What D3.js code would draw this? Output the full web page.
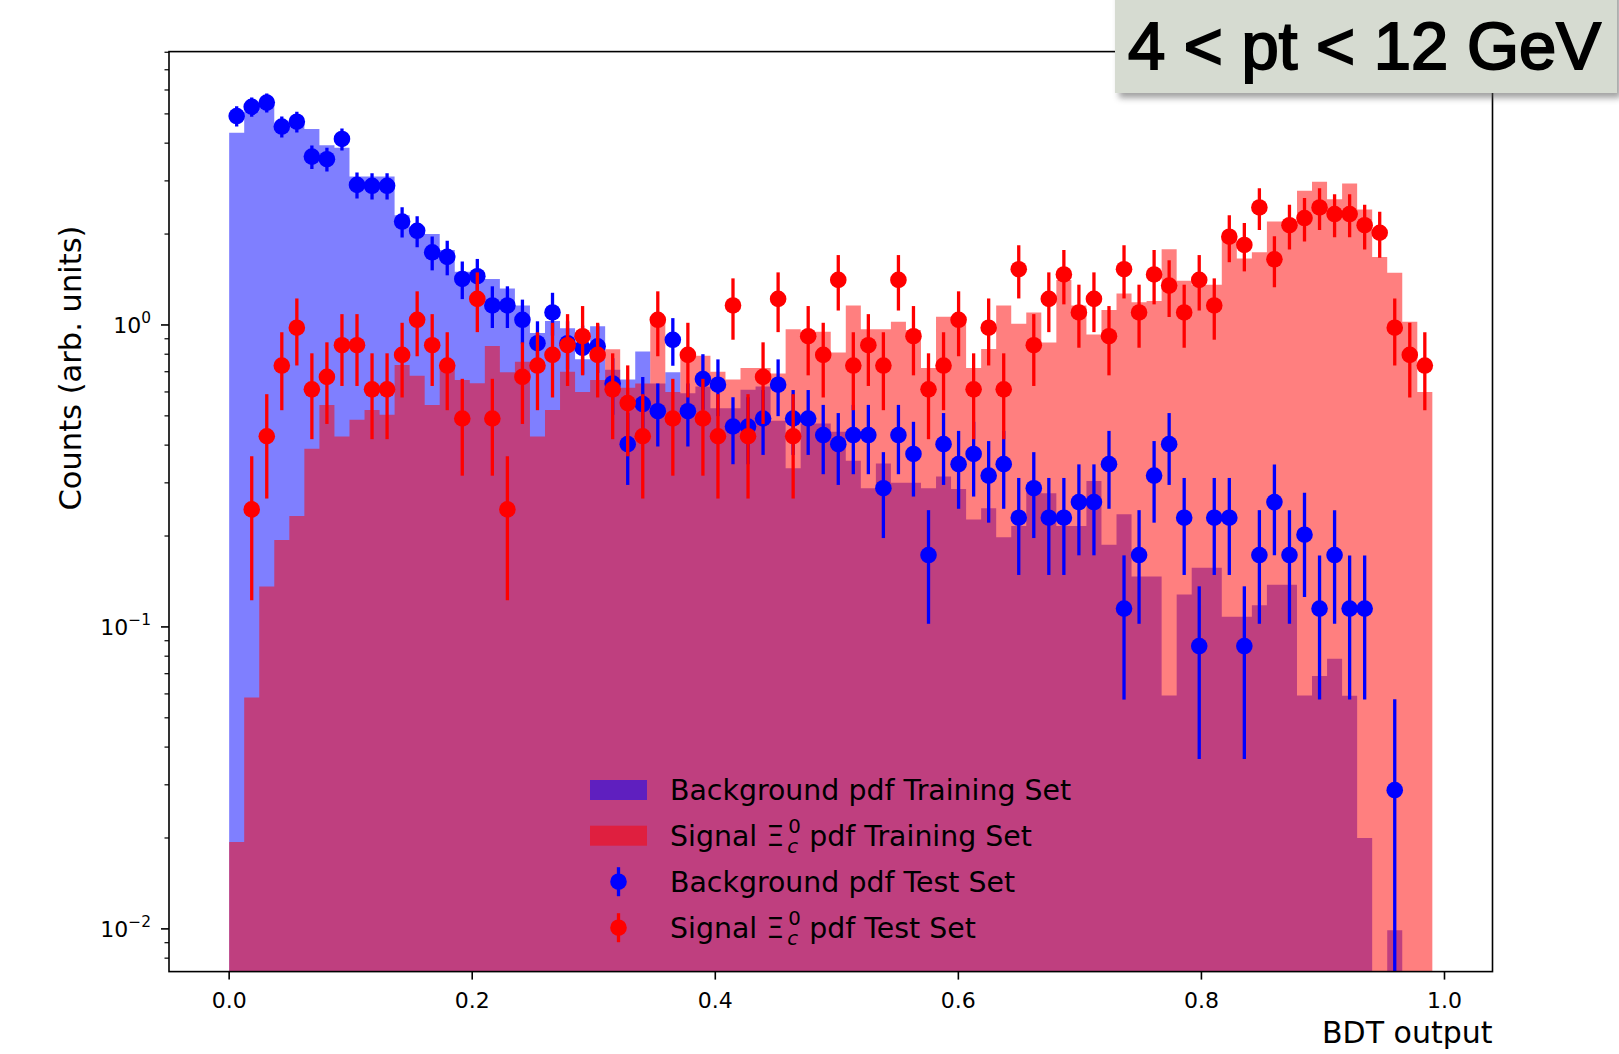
<!DOCTYPE html>
<html>
<head>
<meta charset="utf-8">
<script src="https://cdnjs.cloudflare.com/ajax/libs/d3/7.8.5/d3.min.js"></script>
<style>
  body { margin: 0; background: #fff; }
  svg { display: block; }
</style>
</head>
<body>
<div id="chart"></div>
<script>
// BDT output histograms, 80 bins between 0 and 0.99
const bdtMin = 0, bdtMax = 0.99, nBins = 80

// training set pdfs (step histograms)
const bkgTrain = [4.33, 5.1, 5.4, 4.6, 4.6, 4.46, 3.94, 3.86, 3.1, 3.1,
  3.1, 2.31, 2.12, 2.0, 1.77, 1.5, 1.5, 1.42, 1.32, 1.16,
  0.94, 1.03, 0.975, 0.77, 0.99, 0.71, 0.66, 0.816, 0.64, 0.697,
  0.594, 0.625, 0.53, 0.53, 0.61, 0.625, 0.482, 0.335, 0.472, 0.472,
  0.443, 0.355, 0.288, 0.348, 0.30, 0.30, 0.288, 0.315, 0.286, 0.227,
  0.247, 0.198, 0.216, 0.284, 0.277, 0.216, 0.216, 0.304, 0.187, 0.236,
  0.147, 0.147, 0.0593, 0.128, 0.157, 0.157, 0.108, 0.108, 0.118, 0.138,
  0.138, 0.0593, 0.0688, 0.0785, 0.0592, 0.02, 0, 0.0099, 0, 0]
const sigTrain = [0.0194, 0.0584, 0.136, 0.194, 0.233, 0.389, 0.543, 0.427, 0.485, 0.523,
  0.504, 0.737, 0.679, 0.543, 0.728, 0.657, 0.641, 0.852, 0.697, 0.756,
  0.427, 0.523, 0.70, 0.60, 0.657, 0.831, 0.62, 0.64, 1.05, 0.60,
  0.79, 0.79, 0.70, 0.66, 0.72, 0.72, 0.69, 0.967, 0.95, 0.95,
  0.81, 1.16, 0.967, 0.967, 1.025, 0.96, 0.72, 1.065, 1.065, 0.72,
  0.832, 1.16, 1.01, 1.10, 0.874, 1.41, 1.16, 0.93, 1.12, 1.27,
  1.19, 1.20, 1.78, 1.40, 1.36, 1.36, 1.94, 1.66, 1.74, 2.20,
  2.20, 2.78, 2.98, 2.61, 2.94, 2.41, 1.68, 1.49, 1.025, 0.60]

// test set points (0 = empty bin)
const bkgTest = [4.92, 5.28, 5.45, 4.54, 4.71, 3.61, 3.54, 4.13, 2.91, 2.89,
  2.89, 2.20, 2.05, 1.74, 1.68, 1.42, 1.45, 1.16, 1.16, 1.04,
  0.87, 1.10, 0.87, 0.84, 0.85, 0.64, 0.403, 0.547, 0.518, 0.893,
  0.518, 0.662, 0.634, 0.461, 0.461, 0.490, 0.634, 0.490, 0.490, 0.432,
  0.403, 0.432, 0.432, 0.288, 0.432, 0.374, 0.173, 0.403, 0.346, 0.374,
  0.317, 0.346, 0.230, 0.288, 0.230, 0.230, 0.259, 0.259, 0.346, 0.115,
  0.173, 0.317, 0.403, 0.230, 0.0864, 0.230, 0.230, 0.0864, 0.173, 0.259,
  0.173, 0.202, 0.115, 0.173, 0.115, 0.115, 0, 0.0288, 0, 0]
const sigTest = [0, 0.245, 0.428, 0.734, 0.979, 0.612, 0.673, 0.857, 0.857, 0.612,
  0.612, 0.796, 1.04, 0.857, 0.734, 0.490, 1.22, 0.490, 0.245, 0.673,
  0.734, 0.796, 0.857, 0.918, 0.796, 0.612, 0.551, 0.428, 1.04, 0.490,
  0.796, 0.490, 0.428, 1.16, 0.428, 0.673, 1.22, 0.428, 0.918, 0.796,
  1.41, 0.734, 0.857, 0.734, 1.41, 0.918, 0.612, 0.734, 1.04, 0.612,
  0.979, 0.612, 1.53, 0.857, 1.22, 1.47, 1.10, 1.22, 0.918, 1.53,
  1.10, 1.47, 1.35, 1.10, 1.41, 1.16, 1.96, 1.84, 2.45, 1.65,
  2.14, 2.26, 2.45, 2.33, 2.33, 2.14, 2.02, 0.979, 0.796, 0.734]
// weight of a single test entry (lowest visible point), error = sqrt(N)*weight
const bkgUnit = 0.0288
const sigUnit = 0.0612

const xTicks = [0, 0.2, 0.4, 0.6, 0.8, 1.0]
const yTickExp = [-2, -1, 0]
const legendLabels = ["Background pdf Training Set", "Signal Ξ pdf Training Set",
  "Background pdf Test Set", "Signal Ξ pdf Test Set"]
const titleText = "4 < pt < 12 GeV"

const width = 1619
const height = 1054
const plot = { left: 169, right: 1492.5, top: 51.6, bottom: 971.6 }

const svg = d3.select("#chart").append("svg")
  .attr("width", width).attr("height", height)
svg.append("rect").attr("width", width).attr("height", height).attr("fill", "#fff")

const x = d3.scaleLinear().domain([-0.0495, 1.0395]).range([plot.left, plot.right])
const y = d3.scaleLog().domain([0.00722, 8.04]).range([plot.bottom, plot.top]).clamp(true)
const yv = v => y(Math.max(v, 1e-6))

const binW = (bdtMax - bdtMin) / nBins
const edge = i => bdtMin + i * binW
const center = i => bdtMin + (i + 0.5) * binW

svg.append("clipPath").attr("id", "plotclip").append("rect")
  .attr("x", plot.left).attr("y", plot.top)
  .attr("width", plot.right - plot.left).attr("height", plot.bottom - plot.top)

const elementGroup = svg.append("g").attr("clip-path", "url(#plotclip)")

// step histograms
const stepArea = d3.area()
  .x(d => x(d.x)).y0(plot.bottom).y1(d => yv(d.v))
  .curve(d3.curveStepAfter)
function histPoints(vals) {
  const pts = vals.map((v, i) => ({ x: edge(i), v: v }))
  pts.push({ x: edge(nBins), v: vals[nBins - 1] })
  return pts
}
elementGroup.append("path").datum(histPoints(bkgTrain))
  .attr("d", stepArea).attr("fill", "#0000ff").attr("fill-opacity", 0.5)
elementGroup.append("path").datum(histPoints(sigTrain))
  .attr("d", stepArea).attr("fill", "#ff0000").attr("fill-opacity", 0.5)

// test points with error bars
function drawTest(vals, unit, color) {
  const pts = vals.map((v, i) => ({ i, v, err: Math.sqrt(v / unit) * unit })).filter(d => d.v > 0)
  const g = elementGroup.append("g")
  g.selectAll("line").data(pts).enter().append("line")
    .attr("x1", d => x(center(d.i))).attr("x2", d => x(center(d.i)))
    .attr("y1", d => yv(d.v - d.err)).attr("y2", d => yv(d.v + d.err))
    .attr("stroke", color).attr("stroke-width", 3.3)
  g.selectAll("circle").data(pts).enter().append("circle")
    .attr("cx", d => x(center(d.i))).attr("cy", d => yv(d.v))
    .attr("r", 8.3).attr("fill", color)
}
drawTest(bkgTest, bkgUnit, "#0000ff")
drawTest(sigTest, sigUnit, "#ff0000")

// frame
svg.append("rect").attr("x", plot.left).attr("y", plot.top)
  .attr("width", plot.right - plot.left).attr("height", plot.bottom - plot.top)
  .attr("fill", "none").attr("stroke", "#000").attr("stroke-width", 1.6)

// x axis
const xAxisGroup = svg.append("g")
xAxisGroup.selectAll("line").data(xTicks).enter().append("line")
  .attr("x1", d => x(d)).attr("x2", d => x(d))
  .attr("y1", plot.bottom).attr("y2", plot.bottom + 8)
  .attr("stroke", "#000").attr("stroke-width", 1.6)
xAxisGroup.selectAll("text").data(xTicks).enter().append("text")
  .attr("x", d => x(d)).attr("y", 1007.5)
  .attr("text-anchor", "middle")
  .attr("font-family", "DejaVu Sans").attr("font-size", 22)
  .text(d => d.toFixed(1))

// y axis (log)
const yAxisGroup = svg.append("g")
const minor = []
for (let e = -3; e <= 0; e++) for (let k = 2; k <= 9; k++) {
  const v = k * Math.pow(10, e)
  if (v >= y.domain()[0] && v <= y.domain()[1]) minor.push(v)
}
yAxisGroup.selectAll("line.minor").data(minor).enter().append("line")
  .attr("x1", plot.left - 4.5).attr("x2", plot.left)
  .attr("y1", d => y(d)).attr("y2", d => y(d))
  .attr("stroke", "#000").attr("stroke-width", 1.2)
yAxisGroup.selectAll("line.major").data(yTickExp).enter().append("line")
  .attr("x1", plot.left - 8).attr("x2", plot.left)
  .attr("y1", d => y(Math.pow(10, d))).attr("y2", d => y(Math.pow(10, d)))
  .attr("stroke", "#000").attr("stroke-width", 1.6)
const yLab = yAxisGroup.selectAll("text").data(yTickExp).enter().append("text")
  .attr("x", 151).attr("y", d => y(Math.pow(10, d)) + 8)
  .attr("text-anchor", "end")
  .attr("font-family", "DejaVu Sans").attr("font-size", 22)
yLab.append("tspan").text("10")
yLab.append("tspan").attr("dy", -10).attr("font-size", 15.4)
  .text(d => d === 0 ? "0" : "\u2212" + Math.abs(d))

// axis labels
svg.append("text").attr("x", plot.right).attr("y", 1043)
  .attr("text-anchor", "end").attr("font-family", "DejaVu Sans").attr("font-size", 30)
  .text("BDT output")
svg.append("text").attr("transform", "translate(81,368) rotate(-90)")
  .attr("text-anchor", "middle").attr("font-family", "DejaVu Sans").attr("font-size", 30.5)
  .text("Counts (arb. units)")

// legend (no frame)
const legend = svg.append("g")
const rowY = [790, 835.7, 881.7, 927.7]
const legX = 590, textX = 670, legFont = 28.4
legend.append("rect").attr("x", legX).attr("y", rowY[0] - 10).attr("width", 57).attr("height", 20)
  .attr("fill", "#0000ff").attr("fill-opacity", 0.5)
legend.append("rect").attr("x", legX).attr("y", rowY[1] - 10).attr("width", 57).attr("height", 20)
  .attr("fill", "#ff0000").attr("fill-opacity", 0.5)
;[["#0000ff", rowY[2]], ["#ff0000", rowY[3]]].forEach(([c, ry]) => {
  legend.append("line").attr("x1", legX + 28.5).attr("x2", legX + 28.5)
    .attr("y1", ry - 14.5).attr("y2", ry + 14.5).attr("stroke", c).attr("stroke-width", 3.3)
  legend.append("circle").attr("cx", legX + 28.5).attr("cy", ry).attr("r", 8.3).attr("fill", c)
})
legendLabels.forEach((lab, i) => {
  const base = rowY[i] + 10
  if (lab.indexOf("Ξ") < 0) {
    legend.append("text").attr("x", textX).attr("y", base)
      .attr("font-family", "DejaVu Sans").attr("font-size", legFont).text(lab)
    return
  }
  const parts = lab.split("Ξ")
  const t1 = legend.append("text").attr("x", textX).attr("y", base)
    .attr("font-family", "DejaVu Sans").attr("font-size", legFont).text(parts[0] + "Ξ")
  const w1 = t1.node().getComputedTextLength()
  legend.append("text").attr("x", textX + w1 + 4).attr("y", base - 13)
    .attr("font-family", "DejaVu Sans").attr("font-size", 19.8).text("0")
  legend.append("text").attr("x", textX + w1 + 3).attr("y", base + 7)
    .attr("font-family", "DejaVu Sans").attr("font-style", "italic").attr("font-size", 19.8).text("c")
  legend.append("text").attr("x", textX + w1 + 25).attr("y", base)
    .attr("font-family", "DejaVu Sans").attr("font-size", legFont).text(parts[1].trim())
})

// pt-range title box
const defs = svg.append("defs")
defs.append("filter").attr("id", "shadow").attr("x", "-10%").attr("y", "-10%")
  .attr("width", "130%").attr("height", "140%")
  .append("feGaussianBlur").attr("stdDeviation", 3)
svg.append("rect").attr("x", 1119).attr("y", -10).attr("width", 502).attr("height", 108)
  .attr("fill", "#555").attr("opacity", 0.55).attr("filter", "url(#shadow)")
svg.append("rect").attr("x", 1115).attr("y", -10).attr("width", 502).attr("height", 103)
  .attr("fill", "#d6dbd1")
svg.append("text").attr("x", 1128).attr("y", 68.5)
  .attr("font-family", "Liberation Sans, Arial, sans-serif").attr("font-size", 66)
  .attr("stroke", "#000").attr("stroke-width", 2).attr("fill", "#000")
  .attr("textLength", 473).attr("lengthAdjust", "spacingAndGlyphs")
  .text(titleText)
</script>
</body>
</html>
